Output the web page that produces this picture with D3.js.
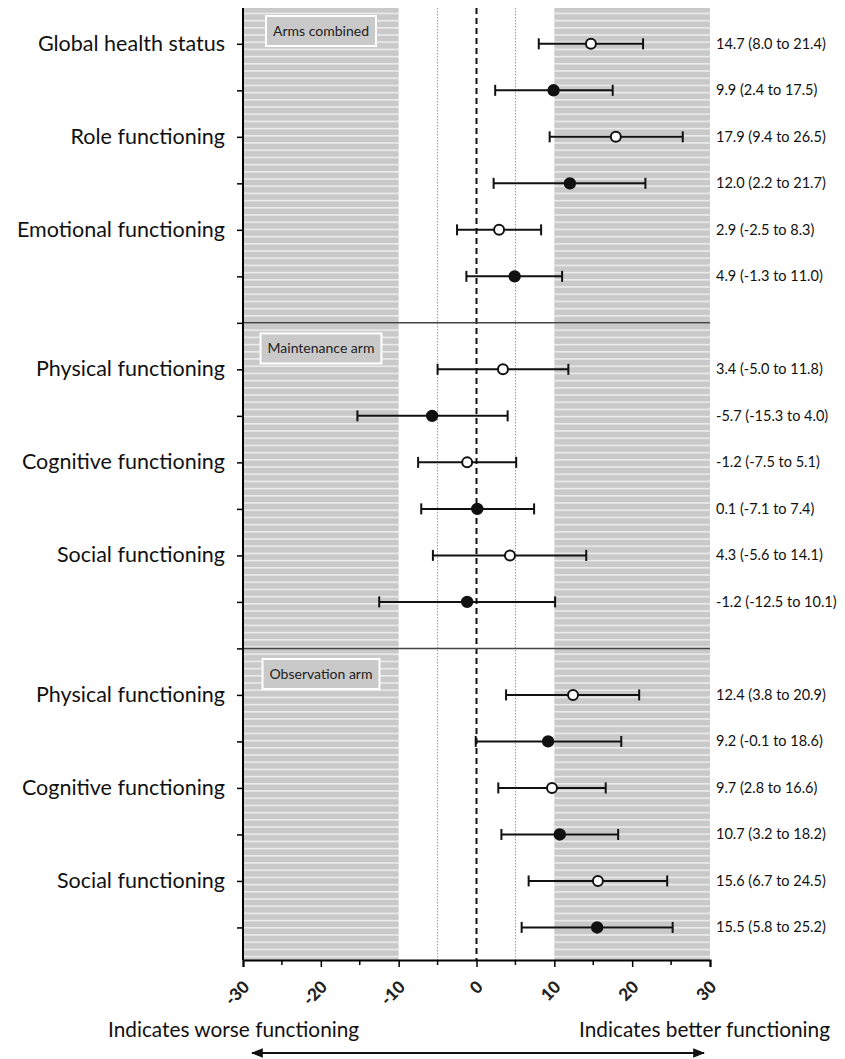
<!DOCTYPE html>
<html>
<head>
<meta charset="utf-8">
<script src="https://cdn.jsdelivr.net/npm/d3@7"></script>
<style>
  body { margin: 0; background: #fff; }
  svg { display: block; font-family: Lato, "Open Sans", sans-serif; }
</style>
</head>
<body>
<div id="chart"></div>
<script>
// Sections of the forest plot
const sections = ['Arms combined', 'Maintenance arm', 'Observation arm'];

// Row labels (empty = second row of a pair)
const rowLabels = [
  ['Global health status', '', 'Role functioning', '', 'Emotional functioning', ''],
  ['Physical functioning', '', 'Cognitive functioning', '', 'Social functioning', ''],
  ['Physical functioning', '', 'Cognitive functioning', '', 'Social functioning', '']
];

// Point estimates and 95% CI
const estimates = [
  [14.7, 9.9, 17.9, 12.0, 2.9, 4.9],
  [3.4, -5.7, -1.2, 0.1, 4.3, -1.2],
  [12.4, 9.2, 9.7, 10.7, 15.6, 15.5]
];
const lower = [
  [8.0, 2.4, 9.4, 2.2, -2.5, -1.3],
  [-5.0, -15.3, -7.5, -7.1, -5.6, -12.5],
  [3.8, -0.1, 2.8, 3.2, 6.7, 5.8]
];
const upper = [
  [21.4, 17.5, 26.5, 21.7, 8.3, 11.0],
  [11.8, 4.0, 5.1, 7.4, 14.1, 10.1],
  [20.9, 18.6, 16.6, 18.2, 24.5, 25.2]
];

const xTicks = [-30, -20, -10, 0, 10, 20, 30];
const xMinorTicks = [-25, -15, -5, 5, 15, 25];

const width = 845, height = 1059;
const plot = { left: 243, right: 710, top: 8, bottom: 960 };

const svg = d3.select('#chart').append('svg')
  .attr('width', width)
  .attr('height', height);

const x = d3.scaleLinear().domain([-30, 30]).range([plot.left, plot.right]);
// one slot per row, a divider slot between sections
const y = d3.scaleLinear().domain([-0.77, 19.7]).range([plot.top, plot.bottom]);

// Striped pattern for shaded zones
const defs = svg.append('defs');
const pat = defs.append('pattern')
  .attr('id', 'stripes')
  .attr('patternUnits', 'userSpaceOnUse')
  .attr('width', 10).attr('height', 7.2);
pat.append('rect').attr('width', 10).attr('height', 7.2).attr('fill', '#c9c9c9');
pat.append('rect').attr('y', 5.4).attr('width', 10).attr('height', 1.6).attr('fill', '#ececec');

defs.append('marker')
  .attr('id', 'arrow')
  .attr('viewBox', '0 0 10 10')
  .attr('refX', 9).attr('refY', 5)
  .attr('markerWidth', 6).attr('markerHeight', 6)
  .attr('orient', 'auto-start-reverse')
  .append('path').attr('d', 'M0,1 L10,5 L0,9 Z').attr('fill', '#111');

// Shaded zones
[[-30, -10], [10, 30]].forEach(([a, b]) => {
  svg.append('rect')
    .attr('x', x(a)).attr('y', plot.top)
    .attr('width', x(b) - x(a)).attr('height', plot.bottom - plot.top)
    .attr('fill', 'url(#stripes)');
});

// Reference lines
[-5, 5].forEach(v => {
  svg.append('line')
    .attr('x1', x(v)).attr('x2', x(v))
    .attr('y1', plot.top).attr('y2', plot.bottom)
    .attr('stroke', '#999').attr('stroke-width', 1)
    .attr('stroke-dasharray', '1.5,1.5');
});
svg.append('line')
  .attr('x1', x(0)).attr('x2', x(0))
  .attr('y1', plot.top).attr('y2', plot.bottom)
  .attr('stroke', '#111').attr('stroke-width', 2)
  .attr('stroke-dasharray', '6,4');

// Section dividers
[6, 13].forEach(s => {
  svg.append('line')
    .attr('x1', plot.left).attr('x2', plot.right)
    .attr('y1', y(s)).attr('y2', y(s))
    .attr('stroke', '#444').attr('stroke-width', 1.5);
});

// Section title boxes
sections.forEach((name, si) => {
  const cy = si === 0 ? plot.top + 23 : y(si * 7 - 0.45);
  const t = svg.append('text')
    .attr('x', 321).attr('y', cy + 5)
    .attr('text-anchor', 'middle')
    .attr('font-size', 14).attr('fill', '#222')
    .text(name);
  const bb = t.node().getBBox();
  svg.insert('rect', 'text')
    .attr('x', bb.x - 7).attr('y', cy - 15)
    .attr('width', bb.width + 14).attr('height', 30)
    .attr('fill', '#c9c9c9').attr('stroke', '#fff').attr('stroke-width', 2);
});

// Left axis with ticks on each slot
const slots = d3.range(0, 20);
svg.append('g')
  .attr('transform', `translate(${plot.left},0)`)
  .call(d3.axisLeft(y).tickValues(slots).tickSize(6).tickFormat(''))
  .call(g => g.select('.domain').attr('d', `M-0,${plot.top}V${plot.bottom}`).attr('stroke-width', 2))
  .call(g => g.selectAll('.tick line').attr('stroke-width', 1.5));

// Bottom axis
const xAxis = svg.append('g')
  .attr('transform', `translate(0,${plot.bottom})`)
  .call(d3.axisBottom(x).tickValues(xTicks).tickSize(7).tickFormat(d => d));
xAxis.select('.domain').attr('stroke-width', 2);
xAxis.selectAll('.tick line').attr('stroke-width', 1.5);
xAxis.selectAll('text')
  .attr('font-size', 17).attr('font-weight', 900)
  .attr('font-family', 'Lato, sans-serif')
  .attr('fill', '#222')
  .attr('text-anchor', 'end')
  .attr('y', 0).attr('dx', 0).attr('dy', 0)
  .attr('transform', 'translate(7,28) rotate(-45)');
svg.append('g')
  .attr('transform', `translate(0,${plot.bottom})`)
  .selectAll('line').data(xMinorTicks).join('line')
  .attr('x1', d => x(d)).attr('x2', d => x(d))
  .attr('y1', 0).attr('y2', 5)
  .attr('stroke', '#000').attr('stroke-width', 1.5);

// Rows
const rows = [];
sections.forEach((s, si) => {
  estimates[si].forEach((est, j) => {
    rows.push({
      slot: si * 7 + j,
      label: rowLabels[si][j],
      est, lo: lower[si][j], hi: upper[si][j],
      open: j % 2 === 0
    });
  });
});

const fmt = v => v.toFixed(1);
const g = svg.append('g');
rows.forEach(r => {
  const cy = y(r.slot);
  g.append('line')
    .attr('x1', x(r.lo)).attr('x2', x(r.hi))
    .attr('y1', cy).attr('y2', cy)
    .attr('stroke', '#111').attr('stroke-width', 2);
  [r.lo, r.hi].forEach(v => {
    g.append('line')
      .attr('x1', x(v)).attr('x2', x(v))
      .attr('y1', cy - 5.5).attr('y2', cy + 5.5)
      .attr('stroke', '#111').attr('stroke-width', 2);
  });
  g.append('circle')
    .attr('cx', x(r.est)).attr('cy', cy)
    .attr('r', r.open ? 5 : 5.2)
    .attr('fill', r.open ? '#fff' : '#111')
    .attr('stroke', '#111').attr('stroke-width', 2);

  if (r.label) {
    g.append('text')
      .attr('x', 225).attr('y', cy + 7)
      .attr('text-anchor', 'end')
      .attr('font-size', 21.5).attr('fill', '#111')
      .text(r.label);
  }
  g.append('text')
    .attr('x', 716).attr('y', cy + 5)
    .attr('font-size', 14.5).attr('fill', '#111')
    .text(`${fmt(r.est)} (${fmt(r.lo)} to ${fmt(r.hi)})`);
});

// Direction labels and arrow
svg.append('text')
  .attr('x', 108).attr('y', 1037)
  .attr('font-size', 20.8).attr('fill', '#111')
  .text('Indicates worse functioning');
svg.append('text')
  .attr('x', 830).attr('y', 1037)
  .attr('text-anchor', 'end')
  .attr('font-size', 20.8).attr('fill', '#111')
  .text('Indicates better functioning');
svg.append('line')
  .attr('x1', 252).attr('x2', 704)
  .attr('y1', 1053).attr('y2', 1053)
  .attr('stroke', '#111').attr('stroke-width', 2)
  .attr('marker-start', 'url(#arrow)')
  .attr('marker-end', 'url(#arrow)');
</script>
</body>
</html>
